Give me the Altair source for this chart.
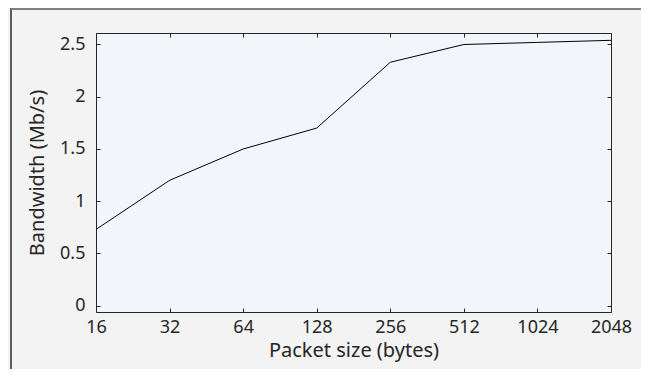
import altair as alt
import pandas as pd

packet_sizes = [16, 32, 64, 128, 256, 512, 1024, 2048]
bandwidth = [0.73, 1.20, 1.50, 1.70, 2.33, 2.50, 2.52, 2.54]
x_ticks = [16, 32, 64, 128, 256, 512, 1024, 2048]
y_ticks = [0, 0.5, 1, 1.5, 2, 2.5]

df = pd.DataFrame({"size": packet_sizes, "bw": bandwidth})

W, H = 515, 279
PAD_L, PAD_T, PAD_R, PAD_B = 88, 25, 30, 57
FONT = "Noto Sans"
TXT = "#262626"

xscale = alt.Scale(type="log", base=2, domain=[16, 2048], nice=False)
yscale = alt.Scale(domain=[-0.06, 2.61], nice=False, zero=False)

base = alt.Chart(df)

line = base.mark_line(color="black", strokeWidth=1).encode(
    x=alt.X("size:Q", scale=xscale,
            axis=alt.Axis(orient="bottom", values=x_ticks, format="d",
                          title="Packet size (bytes)", ticks=False, tickSize=0,
                          domain=False, grid=False, labelPadding=6, titlePadding=4,
                          labelFlush=False, labelOverlap=False)),
    y=alt.Y("bw:Q", scale=yscale,
            axis=alt.Axis(orient="left", values=y_ticks, format="~g",
                          title="Bandwidth (Mb/s)", ticks=False, tickSize=0,
                          domain=False, grid=False, labelPadding=11, titlePadding=12,
                          labelFlush=False, labelOverlap=False)),
)

ticks_a = base.mark_line(opacity=0).encode(
    x=alt.X("size:Q", scale=xscale,
            axis=alt.Axis(orient="top", offset=-H, values=x_ticks, labels=False,
                          domain=False, grid=False, title=None, tickSize=4)),
    y=alt.Y("bw:Q", scale=yscale,
            axis=alt.Axis(orient="right", offset=-W, values=y_ticks, labels=False,
                          domain=False, grid=False, title=None, tickSize=4)),
)

ticks_b = base.mark_line(opacity=0).encode(
    x=alt.X("size:Q", scale=xscale,
            axis=alt.Axis(orient="bottom", offset=-H, values=x_ticks, labels=False,
                          domain=False, grid=False, title=None, tickSize=4)),
    y=alt.Y("bw:Q", scale=yscale,
            axis=alt.Axis(orient="left", offset=-W, values=y_ticks, labels=False,
                          domain=False, grid=False, title=None, tickSize=4)),
)

dummy = pd.DataFrame({"a": [0]})
frame_left = alt.Chart(dummy).mark_rule(color="#2b2b2b", strokeWidth=1.5).encode(
    x=alt.value(-85), y=alt.value(-25), y2=alt.value(H + PAD_B)
)
frame_top = alt.Chart(dummy).mark_rule(color="#808080", strokeWidth=2).encode(
    x=alt.value(-85), x2=alt.value(W + PAD_R), y=alt.value(-24)
)

chart = alt.layer(line, ticks_a, ticks_b, frame_left, frame_top).resolve_axis(
    x="independent", y="independent"
).properties(
    width=W, height=H,
    autosize=alt.AutoSizeParams(type="none"),
    padding={"left": PAD_L, "top": PAD_T, "right": PAD_R, "bottom": PAD_B},
    background="#f3f3f3",
).configure_view(
    fill="#f2f6fa", stroke="#262626", strokeWidth=1
).configure_axis(
    labelFont=FONT, titleFont=FONT, labelFontSize=18, titleFontSize=20,
    labelColor=TXT, titleColor=TXT, tickColor=TXT, titleFontWeight="normal",
)

chart.save("out.html", embed_options={"renderer": "svg", "actions": False})
